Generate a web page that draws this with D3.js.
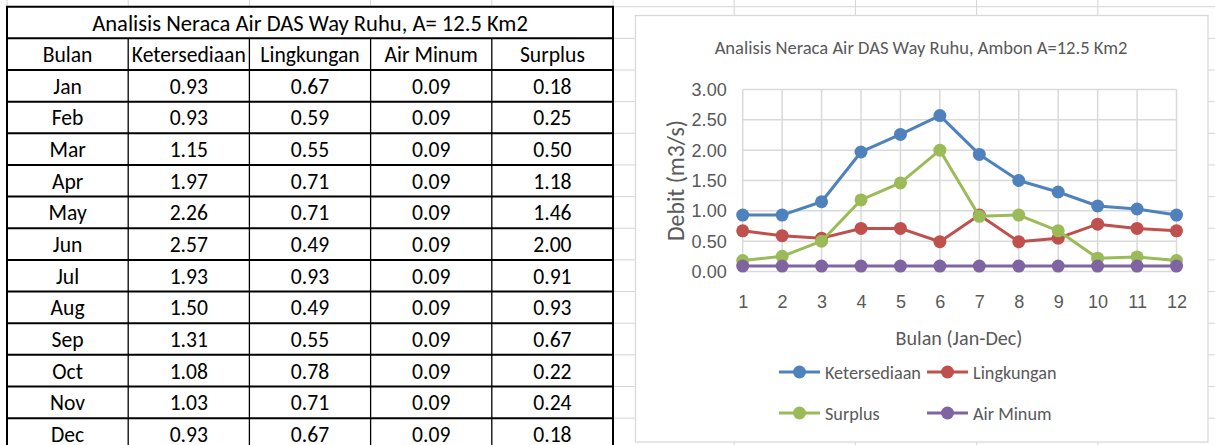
<!DOCTYPE html>
<html>
<head>
<meta charset="utf-8">
<script src="https://cdn.jsdelivr.net/npm/d3@7"></script>
<style>
  html, body { margin: 0; padding: 0; background: #fff; }
  svg { display: block; font-family: Carlito, Lato, "Liberation Sans", sans-serif; }
</style>
</head>
<body>
<svg id="sheet" width="1215" height="445"></svg>
<script>
// Monthly water balance, DAS Way Ruhu (m3/s)
const months = ["Jan", "Feb", "Mar", "Apr", "May", "Jun", "Jul", "Aug", "Sep", "Oct", "Nov", "Dec"];
const monthNumbers = [1, 2, 3, 4, 5, 6, 7, 8, 9, 10, 11, 12];
const ketersediaan = [0.93, 0.93, 1.15, 1.97, 2.26, 2.57, 1.93, 1.50, 1.31, 1.08, 1.03, 0.93];
const lingkungan   = [0.67, 0.59, 0.55, 0.71, 0.71, 0.49, 0.93, 0.49, 0.55, 0.78, 0.71, 0.67];
const airMinum     = [0.09, 0.09, 0.09, 0.09, 0.09, 0.09, 0.09, 0.09, 0.09, 0.09, 0.09, 0.09];
const surplus      = [0.18, 0.25, 0.50, 1.18, 1.46, 2.00, 0.91, 0.93, 0.67, 0.22, 0.24, 0.18];

const tableTitle = "Analisis Neraca Air DAS Way Ruhu, A= 12.5 Km2";
const tableHeaders = ["Bulan", "Ketersediaan", "Lingkungan", "Air Minum", "Surplus"];

const chartTitle = "Analisis Neraca Air DAS Way Ruhu, Ambon A=12.5 Km2";
const yTicks = [0, 0.5, 1, 1.5, 2, 2.5, 3];
const yAxisTitle = "Debit (m3/s)";
const xAxisTitle = "Bulan (Jan-Dec)";

const seriesNames  = ["Ketersediaan", "Lingkungan", "Surplus", "Air Minum"];
const seriesValues = [ketersediaan, lingkungan, surplus, airMinum];
const seriesColors = ["#4F81BD", "#C0504D", "#9BBB59", "#8064A2"];

const svg = d3.select("#sheet");
const W = 1215, H = 445;

// font size that makes `txt` render `width` px wide
function sizeFor(txt, width) {
  const probe = svg.append("text").attr("font-size", 100).text(txt);
  const w = probe.node().getComputedTextLength();
  probe.remove();
  return 100 * width / w;
}

// ---- worksheet cell grid ----
const colW = 121.2, rowH = 31.65, gridX0 = 7, gridY0 = 6.7;
const gridCols = d3.range(0, 11).map(i => gridX0 + i * colW);
const gridRows = d3.range(0, 16).map(i => gridY0 + i * rowH);
const grid = svg.append("g").attr("stroke", "#d4d4d4").attr("stroke-width", 1);
grid.selectAll("line.h").data(gridRows).join("line")
  .attr("x1", gridX0).attr("x2", W).attr("y1", d => d).attr("y2", d => d);
grid.selectAll("line.v").data(gridCols).join("line")
  .attr("x1", d => d).attr("x2", d => d).attr("y1", 0).attr("y2", H);

// ---- table ----
const tableCols = gridCols.slice(0, 6);          // 5 columns
const tableRows = gridRows.slice(0, 15);         // title + header + 12 months
const table = svg.append("g");
table.append("rect")
  .attr("x", tableCols[0]).attr("y", tableRows[0])
  .attr("width", tableCols[5] - tableCols[0]).attr("height", H - tableRows[0] + 10)
  .attr("fill", "#fff");

const cellSize = sizeFor("Ketersediaan", 114);
const titleSize = sizeFor(tableTitle, 436);
const cellText = (txt, c0, c1, r, size) => table.append("text")
  .attr("x", (c0 + c1) / 2)
  .attr("y", (tableRows[r] + tableRows[r + 1]) / 2 + 0.5)
  .attr("text-anchor", "middle").attr("dominant-baseline", "central")
  .attr("font-size", size).attr("fill", "#000").text(txt);

cellText(tableTitle, tableCols[0], tableCols[5], 0, titleSize);
tableHeaders.forEach((h, i) => cellText(h, tableCols[i], tableCols[i + 1], 1, cellSize));
months.forEach((m, r) => {
  const row = [m, ketersediaan[r], lingkungan[r], airMinum[r], surplus[r]];
  row.forEach((v, i) => cellText(i === 0 ? v : d3.format(".2f")(v), tableCols[i], tableCols[i + 1], r + 2, cellSize));
});

table.selectAll("line.th").data(tableRows).join("line")
  .attr("x1", tableCols[0] - 1).attr("x2", tableCols[5] + 1)
  .attr("y1", d => d).attr("y2", d => d)
  .attr("stroke", "#000").attr("stroke-width", 2);
table.selectAll("line.tv").data(tableCols).join("line")
  .attr("x1", d => d).attr("x2", d => d)
  .attr("y1", (d, i) => (i === 0 || i === 5) ? tableRows[0] : tableRows[1])
  .attr("y2", H + 5)
  .attr("stroke", "#000").attr("stroke-width", (d, i) => (i === 0 || i === 5) ? 2 : 1.3);

// ---- chart ----
const box = { x: 635.5, y: 15.5, w: 572.5, h: 426.5 };
svg.append("rect")
  .attr("x", box.x).attr("y", box.y).attr("width", box.w).attr("height", box.h)
  .attr("fill", "#fff").attr("stroke", "#d9d9d9").attr("stroke-width", 1.3);

const x = d3.scalePoint().domain(monthNumbers).range([742.7, 1176.5]);
const y = d3.scaleLinear().domain([0, 3]).range([271.5, 89.5]);
const textGray = "#595959";

svg.append("text")
  .attr("x", 921).attr("y", 47)
  .attr("text-anchor", "middle").attr("dominant-baseline", "central")
  .attr("font-size", sizeFor(chartTitle, 413)).attr("fill", textGray).text(chartTitle);

// gridlines
const gl = svg.append("g").attr("stroke", "#d9d9d9").attr("stroke-width", 1.5);
gl.selectAll("line.gy").data(yTicks).join("line")
  .attr("x1", x.range()[0]).attr("x2", x.range()[1])
  .attr("y1", d => y(d)).attr("y2", d => y(d));
gl.selectAll("line.gx").data(monthNumbers).join("line")
  .attr("x1", d => x(d)).attr("x2", d => x(d))
  .attr("y1", y(0)).attr("y2", y(3));

// axes (labels only)
const tickSize = sizeFor("3.00", 32);
const yAxis = svg.append("g").attr("transform", `translate(${x.range()[0]},0)`)
  .call(d3.axisLeft(y).tickValues(yTicks).tickFormat(d3.format(".2f")).tickSize(0).tickPadding(16));
const xAxis = svg.append("g").attr("transform", `translate(0,${y(0)})`)
  .call(d3.axisBottom(x).tickSize(0).tickPadding(22));
[yAxis, xAxis].forEach(a => {
  a.select(".domain").remove();
  a.selectAll("text").attr("font-size", tickSize).attr("fill", textGray).attr("font-family", null);
});
yAxis.selectAll("text").attr("dy", null).attr("dominant-baseline", "central");
xAxis.selectAll("text").attr("dy", null).attr("y", 30).attr("dominant-baseline", "central");

svg.append("text")
  .attr("transform", `translate(675,${(y(0) + y(3)) / 2}) rotate(-90)`)
  .attr("text-anchor", "middle").attr("dominant-baseline", "central")
  .attr("font-size", sizeFor(yAxisTitle, 121)).attr("fill", textGray).text(yAxisTitle);
svg.append("text")
  .attr("x", 959).attr("y", 338)
  .attr("text-anchor", "middle").attr("dominant-baseline", "central")
  .attr("font-size", sizeFor(xAxisTitle, 127)).attr("fill", textGray).text(xAxisTitle);

// series
const line = d3.line().x((d, i) => x(monthNumbers[i])).y(d => y(d));
seriesValues.forEach((vals, s) => {
  const g = svg.append("g");
  g.append("path").attr("d", line(vals)).attr("fill", "none")
    .attr("stroke", seriesColors[s]).attr("stroke-width", 3).attr("stroke-linejoin", "round");
  g.selectAll("circle").data(vals).join("circle")
    .attr("cx", (d, i) => x(monthNumbers[i])).attr("cy", d => y(d)).attr("r", 6.5)
    .attr("fill", seriesColors[s]);
});

// legend (2 x 2)
const legSize = sizeFor("Ketersediaan", 96);
const legX = [779, 927], legY = [372, 413];
seriesNames.forEach((name, s) => {
  const lx = legX[s % 2], ly = legY[Math.floor(s / 2)];
  const g = svg.append("g").attr("transform", `translate(${lx},${ly})`);
  g.append("line").attr("x1", 0).attr("x2", 41).attr("y1", 0).attr("y2", 0)
    .attr("stroke", seriesColors[s]).attr("stroke-width", 3);
  g.append("circle").attr("cx", 20.5).attr("cy", 0).attr("r", 6.5).attr("fill", seriesColors[s]);
  g.append("text").attr("x", 46).attr("y", 0.5).attr("dominant-baseline", "central")
    .attr("font-size", legSize).attr("fill", textGray).text(name);
});
</script>
</body>
</html>
